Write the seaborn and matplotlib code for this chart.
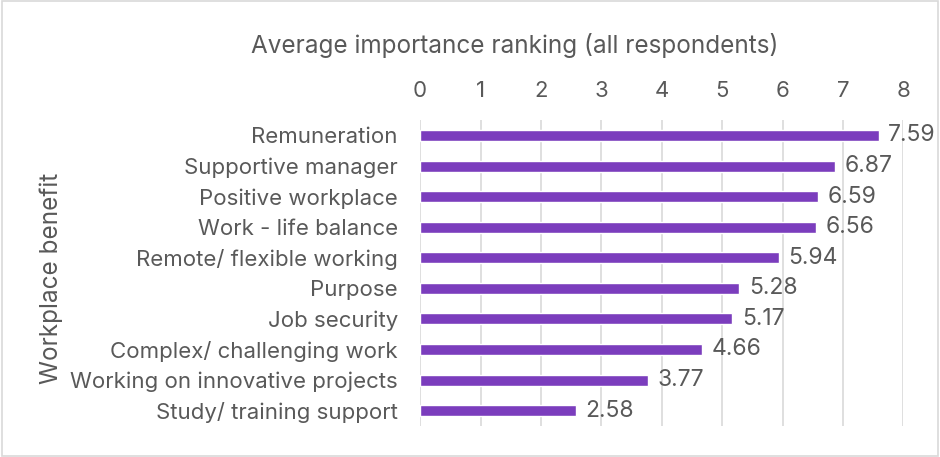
import matplotlib
matplotlib.use("Agg")
import matplotlib.pyplot as plt
import seaborn as sns
import pandas as pd
from matplotlib.patches import Rectangle

# Data
benefits = ["Remuneration", "Supportive manager", "Positive workplace",
            "Work - life balance", "Remote/ flexible working", "Purpose",
            "Job security", "Complex/ challenging work",
            "Working on innovative projects", "Study/ training support"]
scores = [7.59, 6.87, 6.59, 6.56, 5.94, 5.28, 5.17, 4.66, 3.77, 2.58]
x_ticks = [0, 1, 2, 3, 4, 5, 6, 7, 8]

df = pd.DataFrame({"benefit": benefits, "score": scores})

sns.set_theme(style="white")
plt.rcParams["font.family"] = ["Inter", "DejaVu Sans"]
text_col = "#595959"

fig = plt.figure(figsize=(9.4, 4.57), dpi=100)
ax = fig.add_axes([0.447, 0.068, 0.514, 0.669])

sns.barplot(data=df, x="score", y="benefit", color="#7B3DBD",
            width=0.36, saturation=1, ax=ax, zorder=3)

ax.set_xlim(0, 8)
ax.set_xticks(x_ticks)
ax.xaxis.tick_top()
ax.xaxis.set_label_position("top")
ax.tick_params(axis="x", length=0, labelsize=16, colors=text_col, pad=14)
ax.tick_params(axis="y", length=0, labelsize=16, colors=text_col, pad=16)
ax.grid(axis="x", color="#D9D9D9", linewidth=1.2, zorder=0)
for s in ax.spines.values():
    s.set_visible(False)

ax.set_xlabel("")
ax.set_ylabel("")
fig.text(0.548, 0.9, "Average importance ranking (all respondents)",
         fontsize=17.5, color=text_col, ha="center", va="center")
fig.text(0.055, 0.39, "Workplace benefit", rotation=90, fontsize=17.5,
         color=text_col, ha="center", va="center")

for c in ax.containers:
    ax.bar_label(c, labels=[f"{v:.2f}" for v in scores], padding=7,
                 fontsize=16.5, color=text_col)

fig.patches.append(Rectangle((0.002, 0.003), 0.996, 0.994,
                             transform=fig.transFigure, fill=False,
                             edgecolor="#D9D9D9", linewidth=1.2))

fig.savefig("out.png", dpi=100)
